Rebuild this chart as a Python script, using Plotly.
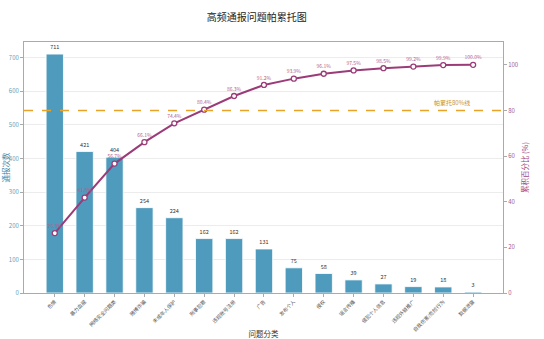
import plotly.graph_objects as go

# Problem categories and their report counts (sorted descending)
categories = ["色情", "暴力血腥", "网络安全问题类", "赌博诈骗", "未成年人保护",
              "刑事犯罪", "违规账号注册", "广告", "发布个人", "侵权",
              "谣言传播", "侵犯个人信息", "违规外链推广", "自我伤害/危险行为", "数据泄露"]
counts = [711, 421, 404, 254, 224, 162, 162, 131, 75, 58, 39, 27, 19, 18, 3]

# Cumulative percentage for the Pareto line
total = sum(counts)
cum_pct = []
running = 0
for c in counts:
    running += c
    cum_pct.append(running / total * 100)

threshold = 80

bar_color = "#4f9bbd"
line_color = "#9b3b78"
ref_color = "#e9a326"

fig = go.Figure()

fig.add_trace(go.Bar(
    x=categories, y=counts, name="通报次数",
    marker=dict(color=bar_color, line=dict(color="white", width=0.8)),
    width=0.58,
    text=[str(v) for v in counts], textposition="outside",
    textfont=dict(size=5.5, color="#333333"),
    cliponaxis=False,
))

fig.add_trace(go.Scatter(
    x=categories, y=cum_pct, yaxis="y2", name="累积百分比",
    mode="lines+markers+text",
    line=dict(color=line_color, width=2),
    marker=dict(size=5, color="white", line=dict(color=line_color, width=1.3)),
    text=[f"{p:.1f}%" for p in cum_pct], textposition="top center",
    textfont=dict(size=5, color="#b0628f"),
    cliponaxis=False,
))

# 80% reference line
fig.add_shape(type="line", xref="paper", x0=0, x1=1, yref="y2", y0=threshold, y1=threshold,
              line=dict(color=ref_color, width=1.5, dash="dash"))
fig.add_annotation(x=13.3, y=threshold, xref="x", yref="y2", yshift=8,
                   text="帕累托80%线", showarrow=False,
                   font=dict(size=6, color="#c9921c"))

fig.update_layout(
    width=544, height=339,
    margin=dict(l=24, r=41, t=42, b=46),
    paper_bgcolor="white", plot_bgcolor="white",
    font=dict(family="Noto Sans CJK SC, sans-serif", size=6, color="#555555"),
    title=dict(text="高频通报问题帕累托图", x=0.472, xref="container", y=0.947,
               yref="container", yanchor="middle",
               font=dict(size=10, color="#222222")),
    showlegend=False,
    bargap=0.42,
    xaxis=dict(
        title=dict(text="问题分类", font=dict(size=7.5, color="#333333"), standoff=4),
        tickangle=-45, tickfont=dict(size=5, color="#555555"),
        range=[-1.03, 15.0], automargin=False,
        showline=True, linecolor="#aaaaaa", linewidth=1, mirror=True,
        ticks="outside", ticklen=3, tickcolor="#aaaaaa",
        showgrid=False,
    ),
    yaxis=dict(
        title=dict(text="通报次数", font=dict(size=7.5, color="#3f86a8"), standoff=2),
        range=[0, 747], dtick=100, automargin=False,
        tickfont=dict(size=6, color="#5f9fb9"),
        showline=True, linecolor="#aaaaaa", linewidth=1, mirror=True,
        ticks="outside", ticklen=3, tickcolor="#aaaaaa",
        showgrid=True, gridcolor="#ececec", gridwidth=1, zeroline=False,
    ),
    yaxis2=dict(
        title=dict(text="累积百分比 (%)", font=dict(size=7.5, color="#a0467f"), standoff=4),
        overlaying="y", side="right", range=[0, 110], dtick=20, automargin=False,
        tickfont=dict(size=6, color="#a45a8a"),
        showline=True, linecolor="#aaaaaa", linewidth=1,
        ticks="outside", ticklen=3, tickcolor="#aaaaaa",
        showgrid=False, zeroline=False,
    ),
)

fig.write_html("out.html")
